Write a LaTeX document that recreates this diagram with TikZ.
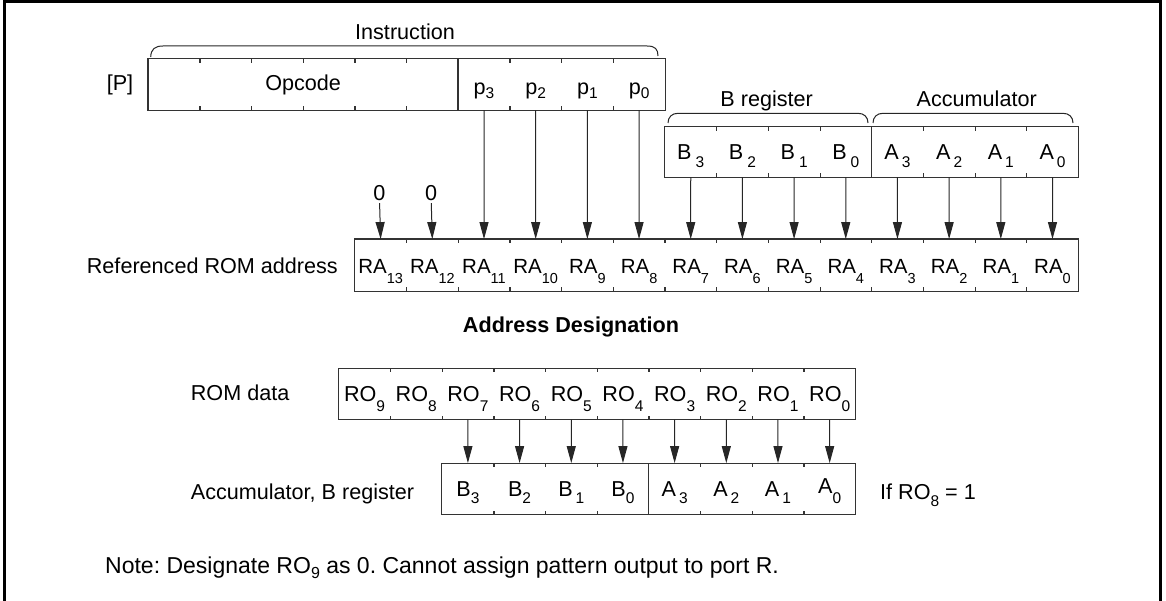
\documentclass[tikz,border=0pt]{standalone}
\usepackage{fontspec}
\setmainfont{Liberation Sans}
\usetikzlibrary{arrows.meta}
\newcommand\sbs[3]{\raisebox{-#1pt}{\fontsize{#2}{#2}\selectfont #3}}
\begin{document}
\frenchspacing
\begin{tikzpicture}[x=1pt,y=-1pt,
  font=\fontsize{21.6}{26}\selectfont,
  frameline/.style={line width=3pt,draw=black},
  boxline/.style={line width=1.2pt,draw=black!80},
  braceline/.style={line width=1pt,draw=black!85},
  arr/.style={line width=1pt,draw=black!85,-{Triangle[length=17pt,width=9pt]}},
  cell/.style={minimum width=51.68pt,minimum height=51pt,inner sep=0pt,text height=16pt,text depth=0pt},
  racell/.style={cell,minimum height=51.7pt,font=\fontsize{20.5}{24}\selectfont},
  bacell/.style={cell,minimum height=50pt,font=\fontsize{21.6}{25}\selectfont},
  pcell/.style={cell,text height=20pt},
  lbl/.style={inner sep=0pt,anchor=base},
]
\useasboundingbox (0,0) rectangle (1166,601);
\draw[frameline] (4.5,601) -- (4.5,1.5) -- (1160.5,1.5) -- (1160.5,601);

% ---------- Instruction box ----------
\foreach \i in {1,...,6}{
  \node[cell] (op\i) at ({148.1+51.68*(\i-0.5)},84.5) {};
}
\node[pcell] (p3) at (484.02,84.5) {p\sbs{4}{15.5}{3}};
\node[pcell] (p2) at (535.70,84.5) {p\sbs{4}{15.5}{2}};
\node[pcell] (p1) at (587.38,84.5) {p\sbs{4}{15.5}{1}};
\node[pcell] (p0) at (639.06,84.5) {p\sbs{4}{15.5}{0}};
\draw[boxline] (op1.north west) rectangle (p0.south east);
\foreach \c in {op1,op2,op3,op4,op5,p3,p2,p1}{
  \draw[boxline] (\c.north east) -- ++(0,4);
  \draw[boxline] (\c.south east) -- ++(0,-4);
}
\draw[boxline] (p3.north west) -- (p3.south west);
\node[lbl] (opcode) at (303.1,91) {Opcode};
\node[lbl] (plabel) at (120,91) {[P]};
\draw[braceline] (150.7,57) .. controls (151,49) and (155,46) .. (163,46) -- (647,46) .. controls (655,46) and (658,49) .. (658,56);
\node[lbl] (instr) at (405,39.5) {Instruction};

% ---------- B register / Accumulator box ----------
\node[bacell] (b3) at (690.74,152) {B\hspace{4pt}\sbs{8}{15.5}{3}};
\node[bacell] (b2) at (742.42,152) {B\hspace{4pt}\sbs{8}{15.5}{2}};
\node[bacell] (b1) at (794.10,152) {B\hspace{4pt}\sbs{8}{15.5}{1}};
\node[bacell] (b0) at (845.78,152) {B\hspace{4pt}\sbs{8}{15.5}{0}};
\node[bacell] (a3) at (897.46,152) {A\hspace{3pt}\sbs{8}{15.5}{3}};
\node[bacell] (a2) at (949.14,152) {A\hspace{3pt}\sbs{8}{15.5}{2}};
\node[bacell] (a1) at (1000.82,152) {A\hspace{3pt}\sbs{8}{15.5}{1}};
\node[bacell] (a0) at (1052.50,152) {A\hspace{3pt}\sbs{8}{15.5}{0}};
\draw[boxline] (b3.north west) rectangle (a0.south east);
\foreach \c in {b3,b2,b1,a3,a2,a1}{
  \draw[boxline] (\c.north east) -- ++(0,4);
  \draw[boxline] (\c.south east) -- ++(0,-4);
}
\draw[boxline] (a3.north west) -- (a3.south west);
\draw[braceline] (668,123) .. controls (668,117) and (672,113.3) .. (678,113.3) -- (858,113.3) .. controls (864,113.3) and (868,117) .. (868,123);
\draw[braceline] (873,123) .. controls (873,117) and (877,113.3) .. (883,113.3) -- (1063,113.3) .. controls (1069,113.3) and (1073,117) .. (1073,123);
\node[lbl] (breg) at (766.7,106.7) {B register};
\node[lbl] (acc) at (976.7,106.7) {Accumulator};

% ---------- Referenced ROM address ----------
\foreach \i in {0,...,13}{
  \pgfmathtruncatemacro\n{13-\i}
  \node[racell] (ra\n) at ({380.64+51.68*\i},265.15) {RA\sbs{10}{14.5}{\n}};
}
\draw[boxline] (ra13.north west) rectangle (ra0.south east);
\foreach \n in {13,...,1}{
  \draw[boxline] (ra\n.north east) -- ++(0,4);
  \draw[boxline] (ra\n.south east) -- ++(0,-4);
}
\node[lbl,anchor=base east] (rlabel) at (338,273.2) {Referenced ROM address};
\node[lbl] (z13) at (379.5,200.7) {0};
\node[lbl] (z12) at (431.2,200.7) {0};
\draw[arr,shorten <=2pt] (z13.south) -- (ra13.north);
\draw[arr,shorten <=2pt] (z12.south) -- (ra12.north);
\foreach \a/\b in {p3/ra11,p2/ra10,p1/ra9,p0/ra8,b3/ra7,b2/ra6,b1/ra5,b0/ra4,a3/ra3,a2/ra2,a1/ra1,a0/ra0}{
  \draw[arr] (\a.south) -- (\b.north);
}
\node[lbl,font=\fontsize{21.6}{26}\selectfont\bfseries] (title) at (571,332.7) {Address Designation};

% ---------- ROM data ----------
\foreach \i in {0,...,9}{
  \pgfmathtruncatemacro\n{9-\i}
  \node[cell] (ro\n) at ({364.54+51.68*\i},393.8) {RO\sbs{10}{15.5}{\n}};
}
\draw[boxline] (ro9.north west) rectangle (ro0.south east);
\foreach \n in {9,...,1}{
  \draw[boxline] (ro\n.north east) -- ++(0,4);
  \draw[boxline] (ro\n.south east) -- ++(0,-4);
}
\node[lbl,anchor=base west] (romlabel) at (190.7,400.7) {ROM data};

% ---------- Accumulator, B register ----------
\node[cell] (lb3) at (467.90,488.8) {B\sbs{7}{15.5}{3}};
\node[cell] (lb2) at (519.58,488.8) {B\sbs{7}{15.5}{2}};
\node[cell] (lb1) at (571.26,488.8) {B\hspace{3pt}\sbs{7}{15.5}{1}};
\node[cell] (lb0) at (622.94,488.8) {B\sbs{7}{15.5}{0}};
\node[cell] (la3) at (674.62,488.8) {A\hspace{3pt}\sbs{7}{15.5}{3}};
\node[cell] (la2) at (726.30,488.8) {A\hspace{3pt}\sbs{7}{15.5}{2}};
\node[cell] (la1) at (777.98,488.8) {A\hspace{3pt}\sbs{7}{15.5}{1}};
\node[cell] (la0) at (829.66,488.8) {\raisebox{3pt}{A}\sbs{7}{15.5}{0}};
\draw[boxline] (lb3.north west) rectangle (la0.south east);
\foreach \c in {lb3,lb2,lb1,la3,la2,la1}{
  \draw[boxline] (\c.north east) -- ++(0,4);
  \draw[boxline] (\c.south east) -- ++(0,-4);
}
\draw[boxline] (la3.north west) -- (la3.south west);
\foreach \a/\b in {ro7/lb3,ro6/lb2,ro5/lb1,ro4/lb0,ro3/la3,ro2/la2,ro1/la1,ro0/la0}{
  \draw[arr] (\a.south) -- (\b.north);
}
\node[lbl,anchor=base west] (acclabel) at (190.7,499) {Accumulator, B register};
\node[lbl,anchor=base west] (cond) at (880,499) {If RO\sbs{7}{15.5}{8} = 1};

% ---------- Note ----------
\node[lbl,anchor=base west,font=\fontsize{23}{27}\selectfont] (note) at (105,573.3) {Note: Designate RO\sbs{5}{16}{9} as 0. Cannot assign pattern output to port R.};
\end{tikzpicture}
\end{document}
